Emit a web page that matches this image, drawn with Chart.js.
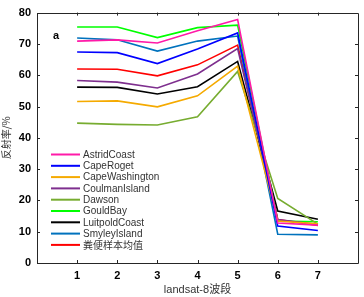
<!DOCTYPE html>
<html><head><meta charset="utf-8">
<script src="https://cdn.jsdelivr.net/npm/chart.js@4/dist/chart.umd.min.js"></script>
<style>html,body{margin:0;padding:0;background:#fff}#w{width:364px;height:297px}</style>
</head><body><div id="w"><canvas id="c" width="364" height="297"></canvas></div>
<script>
const bands = [1, 2, 3, 4, 5, 6, 7];
const xTicks = [1, 2, 3, 4, 5, 6, 7];
const yTicks = [0, 10, 20, 30, 40, 50, 60, 70, 80];
const seriesNames = ['AstridCoast', 'CapeRoget', 'CapeWashington', 'CoulmanIsland', 'Dawson', 'GouldBay', 'LuitpoldCoast', 'SmyleyIsland', '粪便样本均值'];
const astridCoast    = [70.9, 71.3, 70.3, 74.2, 77.8, 12.8, 12.1];
const capeRoget      = [67.4, 67.2, 63.7, 68.4, 73.5, 11.8, 10.4];
const capeWashington = [51.6, 51.8, 49.9, 53.4, 62.9, 13.4, 12.5];
const coulmanIsland  = [58.3, 57.8, 55.9, 60.4, 68.5, 13.9, 12.3];
const dawson         = [44.7, 44.3, 44.1, 46.7, 61.2, 20.6, 12.4];
const gouldBay       = [75.4, 75.4, 72.0, 75.2, 76.0, 13.4, 13.2];
const luitpoldCoast  = [56.2, 56.1, 54.0, 56.3, 64.4, 16.6, 14.0];
const smyleyIsland   = [71.9, 71.3, 67.7, 70.9, 72.5, 9.2, 9.0];
const sampleMean     = [62.0, 61.9, 59.8, 63.3, 69.6, 13.9, 12.0];
const allSeries = [astridCoast, capeRoget, capeWashington, coulmanIsland, dawson, gouldBay, luitpoldCoast, smyleyIsland, sampleMean];
const colors = ['#ff1aa8', '#0000ff', '#f5aa00', '#7e2f8e', '#77ac30', '#00ff00', '#000000', '#0072bd', '#ff0000'];

const datasets = allSeries.map((vals, i) => ({
  label: seriesNames[i],
  data: vals.map((v, j) => ({x: bands[j], y: v})),
  borderColor: colors[i],
  backgroundColor: colors[i],
  borderWidth: 1.6,
  pointRadius: 0,
  tension: 0,
  fill: false
}));

const boxPlugin = {
  id: 'box',
  afterDatasetsDraw(chart) {
    const ctx = chart.ctx, a = chart.chartArea;
    const xs = chart.scales.x, ys = chart.scales.y;
    ctx.save();
    ctx.strokeStyle = '#262626';
    ctx.lineWidth = 1;
    ctx.beginPath();
    ctx.rect(Math.round(a.left)+0.5, Math.round(a.top)+0.5, Math.round(a.right-a.left), Math.round(a.bottom-a.top));
    ctx.stroke();
    ctx.beginPath();
    const tl = 3;
    xTicks.forEach(t => {
      const px = Math.round(xs.getPixelForValue(t)) + 0.5;
      ctx.moveTo(px, a.bottom); ctx.lineTo(px, a.bottom - tl);
      ctx.moveTo(px, a.top); ctx.lineTo(px, a.top + tl);
    });
    yTicks.forEach(t => {
      const py = Math.round(ys.getPixelForValue(t)) + 0.5;
      ctx.moveTo(a.left, py); ctx.lineTo(a.left + tl, py);
      ctx.moveTo(a.right, py); ctx.lineTo(a.right - tl, py);
    });
    ctx.stroke();
    // panel label
    ctx.fillStyle = '#000';
    ctx.font = 'bold 11px "Liberation Sans", Arial, sans-serif';
    ctx.textBaseline = 'middle';
    ctx.fillText('a', 53, 36);
    // legend
    const lx = a.left + 14, ly0 = 154.5, step = 11.3;
    chart.data.datasets.forEach((d, i) => {
      const y = ly0 + i * step;
      ctx.strokeStyle = d.borderColor;
      ctx.lineWidth = 2;
      ctx.beginPath(); ctx.moveTo(lx, y); ctx.lineTo(lx + 29, y); ctx.stroke();
      ctx.fillStyle = '#333';
      ctx.font = (i === 8 ? '10px "Noto Sans CJK SC", sans-serif' : '10px "Liberation Sans", Arial, sans-serif');
      ctx.fillText(d.label, lx + 32, y + 0.5);
    });
    ctx.restore();
  }
};

new Chart(document.getElementById('c'), {
  type: 'line',
  data: {datasets},
  options: {
    responsive: false,
    animation: false,
    layout: {padding: {top: 9, right: 6, left: 0, bottom: 0}},
    plugins: {legend: {display: false}, tooltip: {enabled: false}},
    scales: {
      x: {
        type: 'linear', min: 0, max: 8,
        afterBuildTicks: s => { s.ticks = xTicks.map(v => ({value: v})); },
        grid: {display: false, drawTicks: false},
        border: {display: false},
        ticks: {color: '#000', font: {family: '"Liberation Sans", Arial, sans-serif', size: 11, weight: 'bold'}, padding: 6, maxRotation: 0},
        title: {display: true, text: 'landsat-8波段', color: '#333', font: {family: '"Liberation Sans", "Noto Sans CJK SC", sans-serif', size: 11}, padding: {top: 3, bottom: 0}},
        afterFit: s => { s.height = 34; }
      },
      y: {
        type: 'linear', min: 0, max: 80,
        afterBuildTicks: s => { s.ticks = yTicks.map(v => ({value: v})); },
        grid: {display: false, drawTicks: false},
        border: {display: false},
        ticks: {color: '#000', font: {family: '"Liberation Sans", Arial, sans-serif', size: 11, weight: 'bold'}, padding: 6},
        title: {display: true, text: '反射率/%', color: '#333', font: {family: '"Noto Sans CJK SC", sans-serif', size: 10}, padding: {top: 0, bottom: 2}},
        afterFit: s => { s.width = 37; }
      }
    }
  },
  plugins: [boxPlugin]
});
</script>
</body></html>
